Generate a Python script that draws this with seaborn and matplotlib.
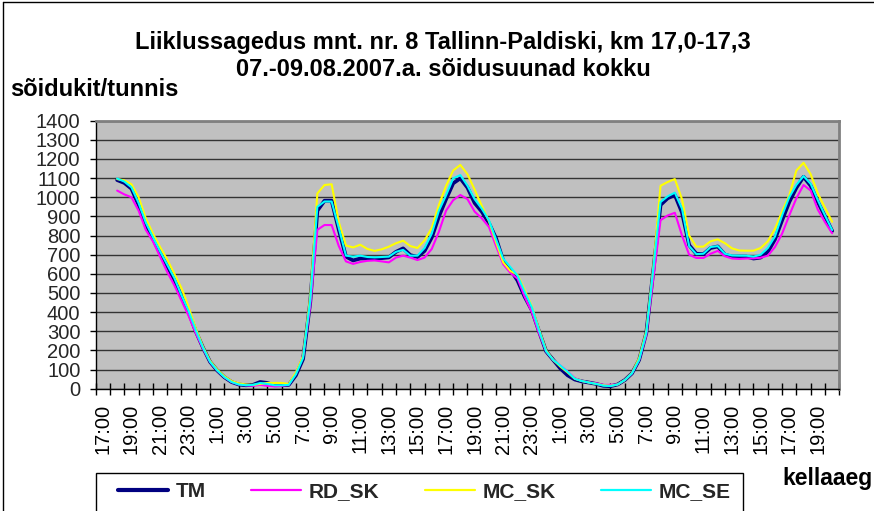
import numpy as np
import pandas as pd
import matplotlib
matplotlib.use("Agg")
import matplotlib.pyplot as plt
import seaborn as sns
from matplotlib.patches import Rectangle
from matplotlib.lines import Line2D
from matplotlib.ticker import FixedLocator

sns.set_theme(style="white")
plt.rcParams['font.family'] = ['Liberation Sans', 'DejaVu Sans']

title_line1 = "Liiklussagedus mnt. nr. 8 Tallinn-Paldiski, km 17,0-17,3"
title_line2 = "07.-09.08.2007.a. sõidusuunad kokku"
y_label = "sõidukit/tunnis"
x_label = "kellaaeg"

# category labels (one category per hour, starting 17:00 on 07.08)
hour_labels = ["17:00", "19:00", "21:00", "23:00", "1:00", "3:00", "5:00", "7:00",
               "9:00", "11:00", "13:00", "15:00", "17:00", "19:00", "21:00", "23:00",
               "1:00", "3:00", "5:00", "7:00", "9:00", "11:00", "13:00", "15:00",
               "17:00", "19:00"]
n_hours = 52

# time of each measurement, hours after 17:00 (half-hour steps, 18:00 .. 20:00 day 3)
time_h = np.arange(1.0, 51.01, 0.5)

tm = [1090, 1075, 1045, 960, 860, 785, 710, 640, 570, 480,
      400, 300, 215, 140, 95, 60, 35, 22, 18, 20,
      35, 30, 18, 18, 20, 70, 155, 450, 930, 982,
      982, 830, 690, 670, 680, 680, 680, 682, 686, 715,
      733, 698, 688, 720, 790, 900, 990, 1073, 1099, 1050,
      970, 925, 865, 785, 668, 623, 565, 480, 410, 300,
      195, 150, 105, 70, 48, 38, 32, 25, 15, 13,
      22, 45, 80, 150, 290, 620, 960, 995, 1012, 920,
      750, 705, 703, 735, 743, 700, 690, 690, 690, 680,
      685, 715, 780, 880, 975, 1050, 1107, 1060, 975, 900,
      824]

rd_sk = [1035, 1015, 1000, 930, 830, 770, 690, 610, 540, 460,
         380, 290, 210, 140, 95, 60, 35, 22, 18, 15,
         20, 15, 12, 15, 20, 80, 170, 430, 830, 855,
         855, 745, 665, 652, 662, 668, 670, 665, 660, 685,
         695, 685, 672, 685, 730, 820, 930, 985, 1012, 990,
         925, 890, 845, 745, 650, 605, 575, 480, 400, 290,
         195, 150, 120, 90, 55, 40, 33, 28, 20, 20,
         22, 45, 80, 150, 280, 580, 880, 905, 919, 800,
         700, 683, 683, 705, 720, 692, 680, 678, 680, 681,
         684, 695, 740, 810, 905, 995, 1064, 1035, 935, 870,
         812]

mc_sk = [1095, 1088, 1068, 1000, 890, 810, 740, 675, 600, 525,
         425, 315, 220, 145, 100, 65, 40, 28, 22, 20,
         25, 30, 30, 30, 25, 85, 170, 480, 1020, 1064,
         1068, 870, 748, 738, 752, 730, 720, 728, 742, 760,
         773, 745, 735, 775, 840, 960, 1060, 1140, 1169, 1120,
         1040, 955, 875, 765, 660, 615, 595, 515, 430, 310,
         200, 150, 115, 85, 52, 40, 32, 25, 18, 15,
         22, 45, 82, 160, 300, 640, 1060, 1080, 1095, 990,
         800, 742, 742, 770, 780, 760, 733, 722, 721, 721,
         735, 770, 835, 925, 1010, 1140, 1180, 1120, 1020, 945,
         872]

mc_se = [1098, 1082, 1052, 970, 868, 792, 718, 648, 578, 488,
         405, 305, 215, 140, 95, 60, 35, 22, 18, 20,
         30, 25, 18, 18, 20, 75, 160, 460, 950, 978,
         978, 840, 695, 690, 695, 688, 686, 688, 690, 715,
         725, 695, 695, 735, 810, 930, 1010, 1099, 1116, 1060,
         990, 940, 880, 780, 680, 635, 590, 505, 425, 305,
         195, 150, 120, 88, 52, 40, 32, 25, 16, 14,
         22, 45, 80, 150, 290, 630, 975, 1005, 1024, 940,
         745, 703, 705, 740, 745, 705, 696, 695, 695, 690,
         700, 735, 795, 905, 1000, 1065, 1111, 1070, 985, 905,
         829]

series_names = ["TM", "RD_SK", "MC_SK", "MC_SE"]
series_vals = [tm, rd_sk, mc_sk, mc_se]
series_colors = ["#000080", "#FF00FF", "#FFFF00", "#00FFFF"]
series_lw = [2.7, 1.5, 1.5, 1.5]

W, H = 874, 511
fig = plt.figure(figsize=(W / 100, H / 100), dpi=100)
fig.patch.set_facecolor("white")

L, R, T, B = 95.7, 839.3, 120.7, 388.7
ax = fig.add_axes([L / W, 1 - B / H, (R - L) / W, (B - T) / H])
ax.set_facecolor("#C0C0C0")

df = pd.DataFrame({"t": np.tile(time_h, 4),
                   "v": np.concatenate(series_vals),
                   "s": np.repeat(series_names, len(time_h))})

for name, color, lw in zip(series_names, series_colors, series_lw):
    sub = df[df["s"] == name]
    sns.lineplot(data=sub, x="t", y="v", ax=ax, color=color, linewidth=lw,
                 legend=False, zorder=3)

ax.set_xlim(-0.5, n_hours - 0.5)
ax.set_ylim(0, 1400)
ax.set_yticks(np.arange(0, 1401, 100))
ax.yaxis.grid(True, color="#333333", linewidth=1.0, zorder=1)
ax.xaxis.grid(False)
ax.set_axisbelow(True)

ax.set_xticks(np.arange(0, n_hours, 2))
ax.set_xticklabels(hour_labels, rotation=90)
ax.xaxis.set_minor_locator(FixedLocator(np.arange(-0.5, n_hours, 1.0)))
ax.tick_params(axis="x", which="major", length=0, labelsize=14.5, pad=11, colors="black")
ax.tick_params(axis="x", which="minor", direction="inout", length=9, width=1,
               color="black", bottom=True)
ax.tick_params(axis="y", which="major", direction="out", length=4, width=1,
               labelsize=14.5, pad=7, color="black", left=True)
ax.set_xlabel("")
ax.set_ylabel("")

for s in ["left", "bottom"]:
    ax.spines[s].set_color("black")
    ax.spines[s].set_linewidth(1.0)
for s in ["top", "right"]:
    ax.spines[s].set_color("#808080")
    ax.spines[s].set_linewidth(2.0)

bold = dict(fontweight="bold", color="black")
fig.text(443 / W, 1 - 42 / H, title_line1, ha="center", va="center", fontsize=17, **bold)
fig.text(443 / W, 1 - 70 / H, title_line2, ha="center", va="center", fontsize=17, **bold)
fig.text(10 / W, 1 - 90 / H, y_label, ha="left", va="center", fontsize=17, **bold)
fig.text(782 / W, 1 - 478 / H, x_label, ha="left", va="center", fontsize=16.5, **bold)

# legend box (cut off by the bottom edge)
fig.patches.append(Rectangle((L / W, (H - 525) / H), (743 - L) / W, (525 - 473) / H,
                             transform=fig.transFigure, fill=False, edgecolor="black",
                             linewidth=1.0))
handles = [Line2D([0], [0], color=c, linewidth=(3.0 if n == "TM" else 1.6))
           for n, c in zip(series_names, series_colors)]
fig.legend(handles, series_names, loc="center left",
           bbox_to_anchor=(118 / W, 1 - 491.7 / H), ncol=4, frameon=False,
           handlelength=2.4, handletextpad=0.35, columnspacing=2.2,
           borderpad=0, borderaxespad=0,
           prop=dict(weight="bold", size=15))

# outer chart border (only left and top edges are inside the picture)
fig.lines.append(Line2D([2.5 / W, 2.5 / W], [0, 1 - 2.5 / H], transform=fig.transFigure,
                        color="black", linewidth=1.0))
fig.lines.append(Line2D([2.5 / W, 1], [1 - 2.5 / H, 1 - 2.5 / H], transform=fig.transFigure,
                        color="black", linewidth=1.0))

fig.savefig("out.png", dpi=100, facecolor="white")
